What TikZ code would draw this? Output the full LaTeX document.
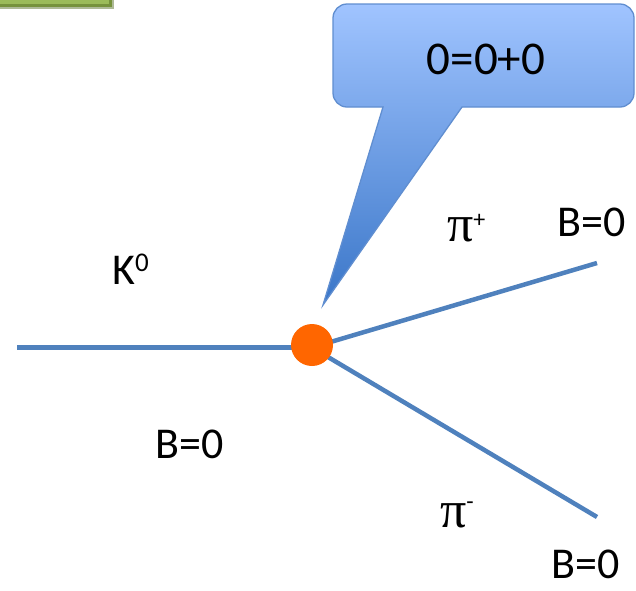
\documentclass[tikz,border=0pt]{standalone}
\usepackage{fontspec}
\setmainfont{Carlito}
\newfontfamily\greekfont{Liberation Serif}
\usetikzlibrary{shadings}
\definecolor{linec}{RGB}{79,129,189}
\definecolor{dotc}{RGB}{255,102,0}
\definecolor{gfill}{RGB}{155,187,89}
\definecolor{gdraw}{RGB}{118,146,60}
\definecolor{ctop}{RGB}{160,196,255}
\definecolor{cbot}{RGB}{58,118,200}
\definecolor{cdraw}{RGB}{96,142,208}
\begin{document}
\begin{tikzpicture}[x=1pt,y=-1pt,
  track/.style={draw=linec,line width=4.5pt},
  lbl/.style={inner sep=0pt,anchor=base west,font=\fontsize{44}{52}\selectfont}]
\useasboundingbox (0,0) rectangle (636,590);
% green box (cropped)
\fill[gdraw!80!black,opacity=0.5] (-10,-30) rectangle (114,9);
\draw[fill=gfill,draw=gdraw,line width=3pt] (-12,-30) rectangle (110,5);
% callout
\draw[cdraw,line width=1.3pt,top color=ctop,bottom color=cbot]
  (383,107) -- (347,107) .. controls (339.3,107) and (333,100.7) .. (333,93)
  -- (333,18) .. controls (333,10.3) and (339.3,4) .. (347,4)
  -- (620,4) .. controls (627.7,4) and (634,10.3) .. (634,18)
  -- (634,93) .. controls (634,100.7) and (627.7,107) .. (620,107)
  -- (462,107) -- (323,305) -- cycle;
\node[inner sep=0pt,font=\fontsize{47}{55}\selectfont] (eq) at (486,59) {0=0+0};
% coordinates
\coordinate (a) at (17,347.5);
\coordinate (b) at (597,263);
\coordinate (c) at (597,517);
\coordinate (v0) at (312,347.5);
\draw[track] (a) -- (v0);
\draw[track] (v0) -- (b);
\draw[track] (v0) -- (c);
\node[circle,fill=dotc,minimum size=42pt,inner sep=0pt] (v) at (312,345) {};
% labels
\node[lbl] (k) at (112,284) {K\raisebox{13pt}{\fontsize{27}{30}\selectfont 0}};
\node[lbl] (bl) at (155,458) {B=0};
\node[lbl] (pp) at (447,241) {{\greekfont\fontsize{52}{56}\selectfont π}\raisebox{14pt}{\fontsize{24}{28}\selectfont +}};
\node[lbl,anchor=base] (bt) at (592,236) {B=0};
\node[lbl] (pm) at (440,527) {{\greekfont\fontsize{52}{56}\selectfont π}\raisebox{18pt}{\fontsize{24}{28}\selectfont -}};
\node[lbl,anchor=base] (bb) at (586,578) {B=0};
\end{tikzpicture}
\end{document}
